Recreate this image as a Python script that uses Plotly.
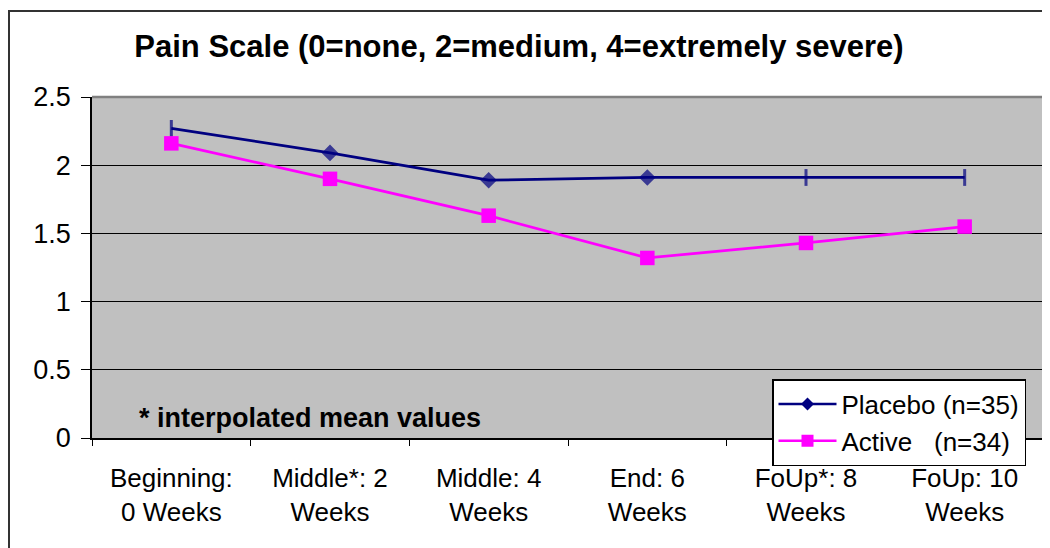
import plotly.graph_objects as go

categories = ["Beginning:<br>0 Weeks", "Middle*: 2<br>Weeks", "Middle: 4<br>Weeks",
              "End: 6<br>Weeks", "FoUp*: 8<br>Weeks", "FoUp: 10<br>Weeks"]
placebo = [2.27, 2.09, 1.89, 1.91, 1.91, 1.91]
active = [2.16, 1.90, 1.63, 1.32, 1.43, 1.55]
placebo_name = "Placebo (n=35)"
active_name = "Active\u00a0\u00a0\u00a0(n=34)"
note_text = "* interpolated mean values"
title_text = "Pain Scale (0=none, 2=medium, 4=extremely severe)"

NAVY = "#000080"
MAGENTA = "#FF00FF"
FONT = "Arial, Liberation Sans, sans-serif"

fig = go.Figure()

fig.add_trace(go.Scatter(
    x=categories, y=placebo, mode="lines+markers", showlegend=False,
    line=dict(color=NAVY, width=2.75),
    marker=dict(symbol=["line-ns", "diamond", "diamond", "diamond", "line-ns", "line-ns"],
                size=[12, 9.5, 9.5, 9.5, 12, 12], color=NAVY,
                line=dict(color=NAVY, width=3)),
))
fig.add_trace(go.Scatter(
    x=categories, y=active, mode="lines+markers", showlegend=False,
    line=dict(color=MAGENTA, width=2.75),
    marker=dict(symbol="square", size=14.5, color=MAGENTA, line=dict(width=0)),
))
# legend entries
fig.add_trace(go.Scatter(
    x=[None], y=[None], mode="lines+markers", name=placebo_name,
    line=dict(color=NAVY, width=2.5),
    marker=dict(symbol="diamond", size=10, color=NAVY),
))
fig.add_trace(go.Scatter(
    x=[None], y=[None], mode="lines+markers", name=active_name,
    line=dict(color=MAGENTA, width=2.5),
    marker=dict(symbol="square", size=12, color=MAGENTA),
))

# the page body adds an 8px margin; work in page pixels and shift
OFF = 8
W, H = 1050 - OFF, 548 - OFF
L, R, T, B = 92 - OFF, 1044 - OFF, 97 - OFF, 438 - OFF
pw, ph = R - L, B - T

def px_x(x):
    return (x - OFF - L) / pw

def px_y(y):
    return (B - (y - OFF)) / ph

fig.update_layout(
    width=W, height=H,
    margin=dict(l=L, r=W - R, t=T, b=H - B, autoexpand=False),
    paper_bgcolor="white",
    plot_bgcolor="#C0C0C0",
    font=dict(family=FONT, size=27, color="black"),
    title=dict(text="<b>" + title_text + "</b>", x=(519 - OFF) / W, xanchor="center",
               y=1 - (46 - OFF) / H, yanchor="middle", yref="container",
               font=dict(family=FONT, size=31, color="black")),
    xaxis=dict(type="category", showgrid=False, showline=True, linecolor="black",
               linewidth=1.5, ticks="outside", tickson="boundaries", ticklen=6,
               tickcolor="black", tickfont=dict(size=26), ticklabelstandoff=16,
               range=[-0.5, 5.5], fixedrange=True),
    yaxis=dict(range=[0, 2.5], dtick=0.5, showgrid=True, gridcolor="black",
               gridwidth=1, zeroline=False, showline=True, linecolor="black",
               linewidth=1.5, ticks="outside", ticklen=9, tickcolor="black",
               tickfont=dict(size=27), ticklabelstandoff=5),
    legend=dict(x=px_x(772), y=px_y(379), xanchor="left", yanchor="top",
                bgcolor="white", bordercolor="black", borderwidth=1.5,
                font=dict(family=FONT, size=26, color="black"),
                itemwidth=58, tracegroupgap=0),
    annotations=[dict(text="<b>" + note_text + "</b>", xref="paper", yref="paper",
                      x=px_x(310), y=px_y(418), xanchor="center", yanchor="middle",
                      showarrow=False, font=dict(family=FONT, size=27, color="black"))],
    shapes=[
        # plot area border (top & right), gray
        dict(type="line", xref="paper", yref="paper", x0=0, x1=1, y0=1, y1=1,
             line=dict(color="#808080", width=2.5), layer="above"),
        dict(type="line", xref="paper", yref="paper", x0=1, x1=1, y0=0, y1=1,
             line=dict(color="#808080", width=2.5), layer="above"),
        # outer chart frame
        dict(type="rect", xref="paper", yref="paper",
             x0=px_x(9), x1=px_x(1100), y0=px_y(600), y1=px_y(11),
             line=dict(color="#333333", width=2), fillcolor="rgba(0,0,0,0)",
             layer="above"),
    ],
)

fig.write_html("out.html")
